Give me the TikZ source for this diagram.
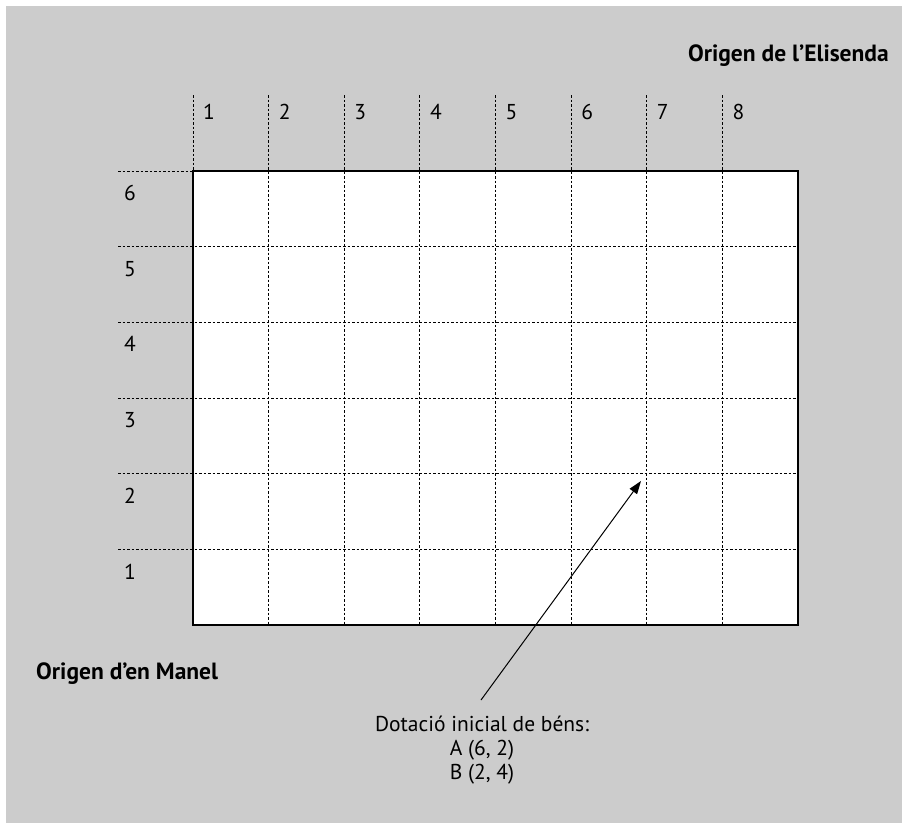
\documentclass[tikz,border=0pt]{standalone}
\usepackage{fontspec}
\setmainfont{PT Sans}
\usetikzlibrary{arrows.meta}
\definecolor{bg}{HTML}{CCCCCC}
\begin{document}
\begin{tikzpicture}[x=1pt,y=-1pt,
  lbl/.style={font=\fontsize{21.5}{24}\selectfont, inner sep=0pt},
  blbl/.style={font=\fontsize{23.5}{26}\selectfont\bfseries, inner sep=0pt},
  gridline/.style={line width=1pt, dash pattern=on 2.5pt off 2pt},
  border/.style={line width=2.5pt},
  arr/.style={line width=1pt, -{Triangle[length=13pt,width=9pt]}}]
\useasboundingbox (0,0) rectangle (902,823);
\fill[white] (0,0) rectangle (902,823);
\fill[bg] (6,6) rectangle (902,823);
\fill[white] (193,171) rectangle (798,625);
% vertical dashed lines
\foreach \i in {0,...,7} {
  \pgfmathsetmacro{\xx}{193+\i*75.625}
  \draw[gridline] (\xx,95) -- (\xx,625);
}
% horizontal dashed lines
\foreach \j in {0,...,5} {
  \pgfmathsetmacro{\yy}{171+\j*75.67}
  \draw[gridline] (118,\yy) -- (798,\yy);
}
\draw[border] (193,171) rectangle (798,625);
% column labels
\foreach \i in {1,...,8} {
  \pgfmathsetmacro{\xx}{193+(\i-1)*75.625+16}
  \node[lbl] (c\i) at (\xx,112) {\i};
}
% row labels
\foreach \j in {1,...,6} {
  \pgfmathsetmacro{\yy}{171+(6-\j)*75.67+22}
  \node[lbl] (r\j) at (130,\yy) {\j};
}
\node[blbl, anchor=east] (eli) at (889,56) {Origen de l’Elisenda};
\node[blbl, anchor=west] (man) at (36,674) {Origen d’en Manel};
\node[lbl, align=center, anchor=north] (dot) at (482,716) {Dotació inicial de béns:\\A (6, 2)\\B (2, 4)};
\coordinate (tail) at (481,700);
\coordinate (tip) at (641,481);
\draw[arr] (tail) -- (tip);
\end{tikzpicture}
\end{document}
